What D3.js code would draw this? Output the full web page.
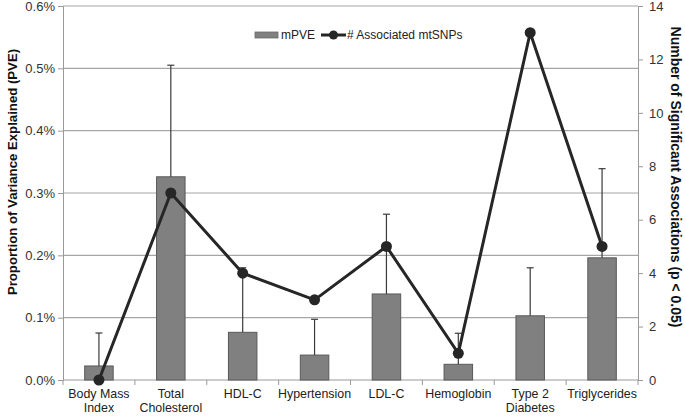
<!DOCTYPE html>
<html>
<head>
<meta charset="utf-8">
<script src="https://cdn.jsdelivr.net/npm/d3@7"></script>
<style>
  body { margin: 0; background: #fff; }
  svg { display: block; font-family: "Liberation Sans", Arial, Helvetica, sans-serif; }
</style>
</head>
<body>
<svg id="chart" width="685" height="416"></svg>
<script>
const categories = [["Body Mass","Index"],["Total","Cholesterol"],["HDL-C"],["Hypertension"],["LDL-C"],["Hemoglobin"],["Type 2","Diabetes"],["Triglycerides"]];
const mPVE = [0.0225, 0.326, 0.0765, 0.040, 0.138, 0.0252, 0.103, 0.196];
const errorTop = [0.0754, 0.505, 0.180, 0.0974, 0.266, 0.075, 0.180, 0.339];
const assocSNPs = [0, 7, 4, 3, 5, 1, 13, 5];
const leftTicks = [0, 0.1, 0.2, 0.3, 0.4, 0.5, 0.6];
const rightTicks = [0, 2, 4, 6, 8, 10, 12, 14];

const svg = d3.select("#chart");
const L = 63, R = 638, T = 6, B = 380;
const idx = categories.map((d, i) => i);

const x = d3.scaleBand().domain(idx).range([L, R]).paddingInner(0).paddingOuter(0);
const yL = d3.scaleLinear().domain([0, 0.6]).range([B, T]);
const yR = d3.scaleLinear().domain([0, 14]).range([B, T]);

// gridlines
svg.append("g").selectAll("line").data(leftTicks.slice(1)).join("line")
  .attr("x1", L).attr("x2", R)
  .attr("y1", d => yL(d)).attr("y2", d => yL(d))
  .attr("stroke", "#a6a6a6").attr("stroke-width", 1.2);

// left axis
const gL = svg.append("g").attr("transform", `translate(${L},0)`)
  .call(d3.axisLeft(yL).tickValues(leftTicks).tickFormat(d => d.toFixed(1) + "%").tickSize(5).tickPadding(3));
// right axis
const gR = svg.append("g").attr("transform", `translate(${R},0)`)
  .call(d3.axisRight(yR).tickValues(rightTicks).tickSize(5).tickPadding(6));
// bottom axis (ticks at band boundaries)
const gB = svg.append("g").attr("transform", `translate(0,${B})`);
gB.append("line").attr("x1", L).attr("x2", R).attr("y1", 0).attr("y2", 0).attr("stroke", "#999");
gB.selectAll("line.tk").data(d3.range(categories.length + 1)).join("line").attr("class", "tk")
  .attr("x1", i => L + i * x.bandwidth()).attr("x2", i => L + i * x.bandwidth())
  .attr("y1", 0).attr("y2", 5).attr("stroke", "#999");

[gL, gR].forEach(g => {
  g.selectAll(".domain").attr("stroke", "#999");
  g.selectAll(".tick line").attr("stroke", "#999");
  g.selectAll(".tick text").attr("fill", "#333").style("font-size", "13px")
    .style("font-family", "'Liberation Sans', Arial, sans-serif");
});

// category labels
const cl = svg.append("g").selectAll("text").data(idx).join("text")
  .attr("x", i => x(i) + x.bandwidth() / 2)
  .attr("y", 398)
  .attr("text-anchor", "middle")
  .attr("fill", "#222")
  .style("font-size", "12.4px");
cl.each(function(i) {
  const t = d3.select(this);
  categories[i].forEach((line, k) => {
    t.append("tspan").attr("x", x(i) + x.bandwidth() / 2).attr("dy", k === 0 ? 0 : 13.5).text(line);
  });
});

// bars
const bw = 28.5;
svg.append("g").selectAll("rect").data(idx).join("rect")
  .attr("x", i => x(i) + x.bandwidth() / 2 - bw / 2)
  .attr("width", bw)
  .attr("y", i => yL(mPVE[i]))
  .attr("height", i => yL(0) - yL(mPVE[i]))
  .attr("fill", "#808080").attr("stroke", "#595959").attr("stroke-width", 1);

// error bars
const eg = svg.append("g").attr("stroke", "#3a3a3a").attr("stroke-width", 1.2);
eg.selectAll("line.v").data(idx).join("line").attr("class", "v")
  .attr("x1", i => x(i) + x.bandwidth() / 2).attr("x2", i => x(i) + x.bandwidth() / 2)
  .attr("y1", i => yL(mPVE[i])).attr("y2", i => yL(errorTop[i]));
eg.selectAll("line.c").data(idx).join("line").attr("class", "c")
  .attr("x1", i => x(i) + x.bandwidth() / 2 - 3.5).attr("x2", i => x(i) + x.bandwidth() / 2 + 3.5)
  .attr("y1", i => yL(errorTop[i])).attr("y2", i => yL(errorTop[i]));

// line series
const line = d3.line().x(i => x(i) + x.bandwidth() / 2).y(i => yR(assocSNPs[i]));
svg.append("path").datum(idx).attr("d", line)
  .attr("fill", "none").attr("stroke", "#262626").attr("stroke-width", 3).attr("stroke-linejoin", "miter");
svg.append("g").selectAll("circle").data(idx).join("circle")
  .attr("cx", i => x(i) + x.bandwidth() / 2).attr("cy", i => yR(assocSNPs[i]))
  .attr("r", 5.5).attr("fill", "#262626");

// legend
const lg = svg.append("g");
lg.append("rect").attr("x", 255).attr("y", 32).attr("width", 23).attr("height", 6)
  .attr("fill", "#808080").attr("stroke", "#6a6a6a").attr("stroke-width", 0.8);
lg.append("text").attr("x", 281).attr("y", 39).text("mPVE").attr("fill", "#222").style("font-size", "12px");
lg.append("line").attr("x1", 321).attr("x2", 346).attr("y1", 35).attr("y2", 35).attr("stroke", "#262626").attr("stroke-width", 3);
lg.append("circle").attr("cx", 333.5).attr("cy", 35).attr("r", 4.5).attr("fill", "#262626");
lg.append("text").attr("x", 347).attr("y", 39).text("# Associated mtSNPs").attr("fill", "#222").style("font-size", "12px");

// axis titles
svg.append("text").attr("transform", `translate(17,172) rotate(-90)`)
  .attr("text-anchor", "middle").style("font-size", "13.2px").style("font-weight", "bold").attr("fill", "#111")
  .text("Proportion of Variance Explained (PVE)");
svg.append("text").attr("transform", `translate(671,177) rotate(90)`)
  .attr("text-anchor", "middle").style("font-size", "14px").style("font-weight", "bold").attr("fill", "#111")
  .text("Number of Significant Associations (p < 0.05)");
</script>
</body>
</html>
